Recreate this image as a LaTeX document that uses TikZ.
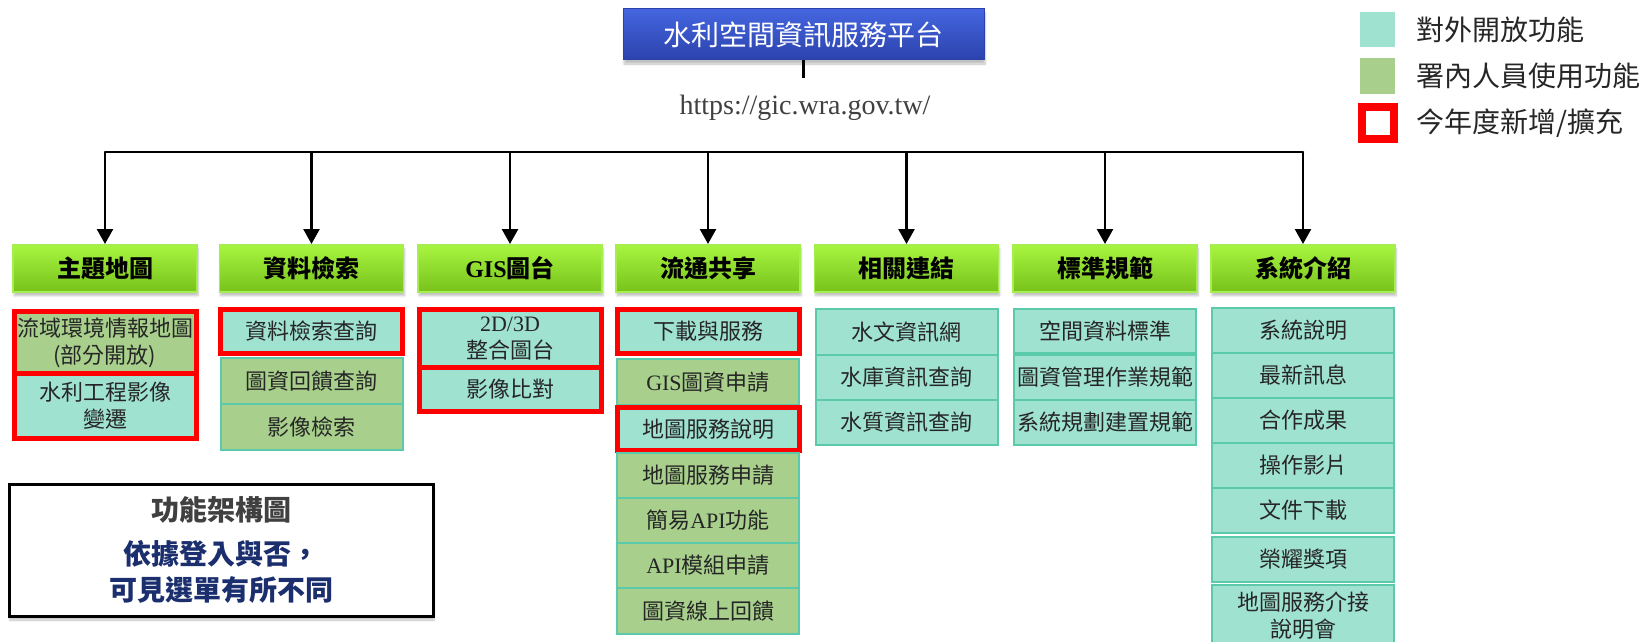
\documentclass[tikz,border=0pt]{standalone}
\usepackage{fontspec}
\setmainfont{Noto Sans CJK TC}
\newfontfamily\tnr{Liberation Serif}
\usetikzlibrary{arrows.meta,positioning,shadows.blur}

\definecolor{tealfill}{HTML}{A0E2D0}
\definecolor{tealline}{HTML}{5ACAAA}
\definecolor{sagefill}{HTML}{A8D08C}
\definecolor{newred}{HTML}{FF0000}
\definecolor{headtop}{HTML}{A8F540}
\definecolor{headbot}{HTML}{78C21C}
\definecolor{headline}{HTML}{A4EE50}
\definecolor{titletop}{HTML}{4566E0}
\definecolor{titlebot}{HTML}{2B42AC}
\definecolor{navytxt}{HTML}{1B2E6E}
\definecolor{graytxt}{HTML}{404040}
\definecolor{boxtxt}{HTML}{262626}

\newcommand\fs[2]{\fontsize{#1}{#2}\selectfont}

\tikzset{
  softshadow/.style={blur shadow={shadow blur steps=6, shadow xshift=1pt, shadow yshift=-4pt, shadow opacity=25}},
  head/.style={draw=headline, line width=1.5pt, top color=headtop, bottom color=headbot,
    minimum width=184pt, minimum height=47pt, anchor=north, font=\fs{24}{28}\bfseries, softshadow},
  pubbox/.style={draw=tealline, line width=2pt, fill=tealfill, minimum width=182pt, inner sep=1pt,
    outer sep=0pt, anchor=north, align=center, text=boxtxt, font=\fs{22}{27}},
  inbox/.style={pubbox, fill=sagefill},
  newbox/.style={draw=newred, line width=5pt},
  arr/.style={line width=2.5pt, -{Triangle[width=16pt,length=15pt]}},
}

\begin{document}
\begin{tikzpicture}[x=1pt, y=-1pt]
  \useasboundingbox (0,0) rectangle (1639,642);

  % platform and address
  \node[draw=titlebot, line width=1pt, top color=titletop, bottom color=titlebot, minimum width=361pt,
    minimum height=51pt, text=white, font=\fs{28}{32}, softshadow] (title) at (803.5,34.5) {水利空間資訊服務平台};
  \coordinate (stub) at (803.5,78);
  \draw[line width=3pt] (title.south) -- (stub);
  \node[text=graytxt, font=\tnr\fs{28}{30}] (url) at (805,108) {https://gic.wra.gov.tw/};

  % legend
  \node[fill=tealfill, minimum size=35pt, inner sep=0pt] (lg1) at (1377.5,29.5) {};
  \node[fill=sagefill, minimum size=35pt, inner sep=0pt] (lg2) at (1377.5,76) {};
  \node[draw=newred, line width=8pt, fill=white, minimum size=32pt, inner sep=0pt] (lg3) at (1378,123) {};
  \node[anchor=west, font=\fs{28}{32}, text=boxtxt] at (1413,30) {對外開放功能};
  \node[anchor=west, font=\fs{28}{32}, text=boxtxt] at (1413,76) {署內人員使用功能};
  \node[anchor=west, font=\fs{28}{32}, text=boxtxt] at (1413,123) {今年度新增/擴充};

  % main menu
  \node[head] (c1) at (105,244) {主題地圖};
  \node[head] (c2) at (311.5,244) {資料檢索};
  \node[head] (c3) at (510,244) {{\tnr GIS}圖台};
  \node[head] (c4) at (708,244) {流通共享};
  \node[head] (c5) at (906.5,244) {相關連結};
  \node[head] (c6) at (1105,244) {標準規範};
  \node[head] (c7) at (1303,244) {系統介紹};

  \coordinate (bar) at (0,152);
  \draw[line width=2.5pt, line cap=round] (c1.north |- bar) -- (c7.north |- bar);
  \foreach \c in {c1,c2,c3,c4,c5,c6,c7}
    \draw[arr] (\c.north |- bar) -- (\c.north);

  % sub menus
  \node[inbox, newbox, minimum height=62pt] (c1a) at (105,311.5) {流域環境情報地圖\\(部分開放)};
  \node[pubbox, newbox, minimum height=65pt, below=0pt of c1a] (c1b) {水利工程影像\\變遷};

  \node[pubbox, newbox, minimum height=44pt] (c2a) at (311.5,309.5) {資料檢索查詢};
  \node[inbox, minimum height=46pt] (c2b) at (311.5,358) {圖資回饋查詢};
  \node[inbox, minimum height=46pt, below=0pt of c2b] (c2c) {影像檢索};

  \node[pubbox, newbox, minimum height=58pt] (c3a) at (510,309.5) {{\tnr 2D/3D}\\整合圖台};
  \node[pubbox, newbox, minimum height=44pt, below=0pt of c3a] (c3b) {影像比對};

  \node[pubbox, newbox, minimum height=44pt] (c4a) at (708,309.5) {下載與服務};
  \node[inbox, minimum height=46pt] (c4b) at (708,359) {{\tnr GIS}圖資申請};
  \node[pubbox, newbox, minimum height=43pt] (c4c) at (708,407.5) {地圖服務說明};
  \node[inbox, minimum height=45pt] (c4d) at (708,453) {地圖服務申請};
  \node[inbox, minimum height=45pt, below=0pt of c4d] (c4e) {簡易{\tnr API}功能};
  \node[inbox, minimum height=45pt, below=0pt of c4e] (c4f) {{\tnr API}模組申請};
  \node[inbox, minimum height=46pt, below=0pt of c4f] (c4g) {圖資線上回饋};

  \node[pubbox, minimum height=46pt] (c5a) at (906.5,309) {水文資訊網};
  \node[pubbox, minimum height=45pt, below=0pt of c5a] (c5b) {水庫資訊查詢};
  \node[pubbox, minimum height=45pt, below=0pt of c5b] (c5c) {水質資訊查詢};

  \node[pubbox, minimum height=44pt] (c6a) at (1105,309) {空間資料標準};
  \node[pubbox, minimum height=45pt] (c6b) at (1105,355) {圖資管理作業規範};
  \node[pubbox, minimum height=45pt, below=0pt of c6b] (c6c) {系統規劃建置規範};

  \node[pubbox, minimum height=45pt] (c7a) at (1303,308) {系統說明};
  \node[pubbox, minimum height=45pt, below=0pt of c7a] (c7b) {最新訊息};
  \node[pubbox, minimum height=45pt, below=0pt of c7b] (c7c) {合作成果};
  \node[pubbox, minimum height=45pt, below=0pt of c7c] (c7d) {操作影片};
  \node[pubbox, minimum height=45pt, below=0pt of c7d] (c7e) {文件下載};
  \node[pubbox, minimum height=45pt] (c7f) at (1303,537) {榮耀獎項};
  \node[pubbox, minimum height=62pt] (c7g) at (1303,585) {地圖服務介接\\說明會};

  % note
  \node[draw=black, line width=3pt, fill=white, minimum width=424pt, minimum height=132pt,
    align=center, font=\fs{28}{36}\bfseries, softshadow] (note) at (221,550)
    {{\color{graytxt}功能架構圖}\\[8pt]{\color{navytxt}依據登入與否，}\\{\color{navytxt}可見選單有所不同}};
\end{tikzpicture}
\end{document}
